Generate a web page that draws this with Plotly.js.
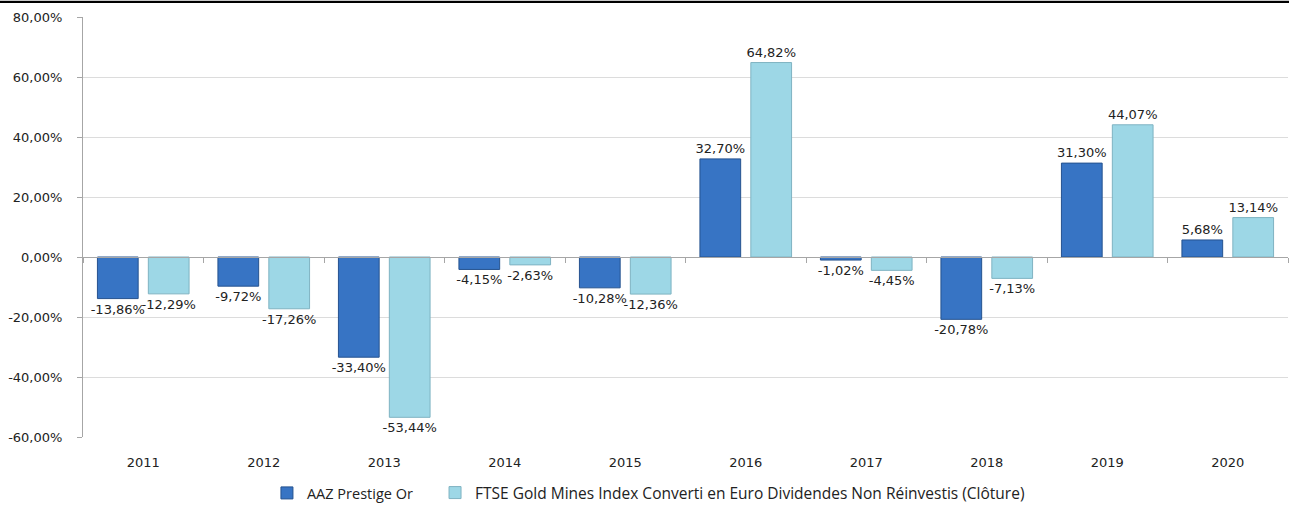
<!DOCTYPE html>
<html>
<head>
<meta charset="utf-8">
<script src="https://cdn.plot.ly/plotly-3.0.1.min.js"></script>
<style>
html,body{margin:0;padding:0;background:#fff;}
#wrap{position:relative;width:1289px;height:506px;}
#chart{width:1289px;height:506px;}
#topborder{position:absolute;left:0;top:0;width:1289px;height:3px;background:linear-gradient(#c8c8c8 0 1px,#000 1px 3px);z-index:5;}
</style>
</head>
<body>
<div id="wrap"><div id="topborder"></div><div id="chart"></div></div>
<script>
const categories = ['2011','2012','2013','2014','2015','2016','2017','2018','2019','2020'];
const seriesNames = ['AAZ Prestige Or', 'FTSE Gold Mines Index Converti en Euro Dividendes Non Réinvestis (Clôture)'];
const aazValues = [-13.86, -9.72, -33.40, -4.15, -10.28, 32.70, -1.02, -20.78, 31.30, 5.68];
const ftseValues = [-12.29, -17.26, -53.44, -2.63, -12.36, 64.82, -4.45, -7.13, 44.07, 13.14];
const yTickVals = [-60, -40, -20, 0, 20, 40, 60, 80];

const fmt = v => v.toFixed(2).replace('.', ',') + '%';
const labelFont = {family: 'DejaVu Sans', size: 13, color: '#222'};

const traces = [
  {
    type: 'bar', name: seriesNames[0], x: categories, y: aazValues, legend: 'legend',
    text: aazValues.map(fmt), textposition: 'outside', constraintext: 'none', cliponaxis: false,
    textfont: labelFont, hoverinfo: 'skip',
    marker: {color: '#3774c4', line: {color: '#25528f', width: 1}}
  },
  {
    type: 'bar', name: seriesNames[1], x: categories, y: ftseValues, legend: 'legend2',
    text: ftseValues.map(fmt), textposition: 'outside', constraintext: 'none', cliponaxis: false,
    textfont: labelFont, hoverinfo: 'skip',
    marker: {color: '#9dd7e6', line: {color: '#7fb3c2', width: 1}}
  },
  {type: 'scatter', x: [], y: [], xaxis: 'x2', showlegend: false, hoverinfo: 'skip'}
];

const n = categories.length;
const boundaries = Array.from({length: n + 1}, (_, i) => i - 0.5);

const layout = {
  width: 1289, height: 506,
  margin: {l: 83, r: 1, t: 17, b: 69, autoexpand: false},
  paper_bgcolor: '#fff', plot_bgcolor: '#fff',
  separators: ', ',
  barmode: 'group', bargap: 0.155, bargroupgap: 0.2,
  showlegend: true,
  legend: {orientation: 'h', xref: 'container', yref: 'container', x: 0.2071, xanchor: 'left',
           y: 0.0257, yanchor: 'middle', font: {family: 'Open Sans', size: 14.5, color: '#222'},
           bgcolor: 'rgba(0,0,0,0)'},
  legend2: {orientation: 'h', xref: 'container', yref: 'container', x: 0.3375, xanchor: 'left',
           y: 0.0257, yanchor: 'middle', font: {family: 'Open Sans', size: 15.5, color: '#222'},
           bgcolor: 'rgba(0,0,0,0)'},
  xaxis: {type: 'category', range: [-0.5, n - 0.5], showgrid: false, zeroline: false,
          showline: false, ticks: '', ticklabelstandoff: 16,
          tickfont: {family: 'DejaVu Sans', size: 13, color: '#222'}, fixedrange: true},
  xaxis2: {overlaying: 'x', anchor: 'free', position: 60 / 140, range: [-0.5, n - 0.5],
           showgrid: false, zeroline: false, showline: true, linecolor: '#a6a6a6', linewidth: 1,
           tickmode: 'array', tickvals: boundaries, ticks: 'outside', ticklen: 5,
           tickcolor: '#a6a6a6', showticklabels: false, fixedrange: true},
  yaxis: {range: [-60, 80], tickmode: 'array', tickvals: yTickVals,
          ticktext: yTickVals.map(fmt), showgrid: true, gridcolor: '#dcdcdc', gridwidth: 1,
          zeroline: false, showline: true, linecolor: '#a6a6a6', linewidth: 1,
          ticks: 'outside', ticklen: 5, tickcolor: '#a6a6a6', ticklabelstandoff: 12,
          tickfont: {family: 'DejaVu Sans', size: 13, color: '#222'}, fixedrange: true}
};

Plotly.newPlot('chart', traces, layout, {displayModeBar: false, staticPlot: true});
</script>
</body>
</html>
